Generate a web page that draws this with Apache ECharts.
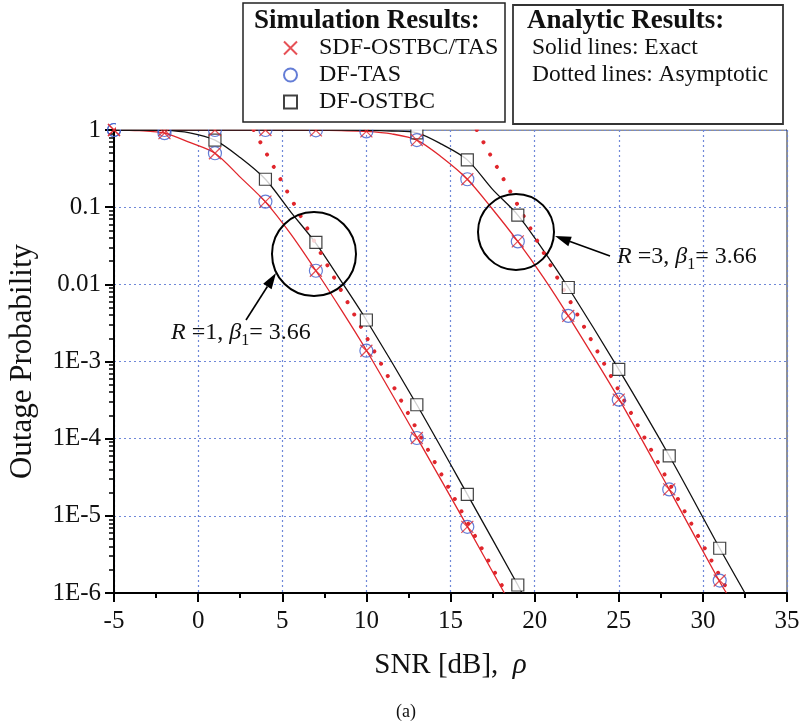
<!DOCTYPE html>
<html><head><meta charset="utf-8">
<script src="https://cdn.jsdelivr.net/npm/echarts@6/dist/echarts.min.js"></script>
<style>html,body{margin:0;padding:0;background:#fff}#c{width:812px;height:727px}</style>
</head><body><div id="c"></div>
<script>
// ---- data ----
const yTickLabels = {'1':'1','0.1':'0.1','0.01':'0.01','0.001':'1E-3','0.0001':'1E-4','0.00001':'1E-5','0.000001':'1E-6'};
// simulation points
const r1SimX = [-5, -2, 1, 4, 7, 10, 13, 16];
const r1Sdf  = [1, 0.91, 0.50, 0.118, 0.015, 1.38e-3, 1.02e-4, 7.2e-6];
const r1Tas  = [1, 0.91, 0.50, 0.118, 0.015, 1.38e-3, 1.02e-4, 7.2e-6];
const r1OstbcX = [1, 4, 7, 10, 13, 16, 19];
const r1Ostbc  = [0.74, 0.23, 0.035, 3.45e-3, 2.75e-4, 1.9e-5, 1.27e-6];
const r3SimX = [-5, -2, 1, 4, 7, 10, 13, 16, 19, 22, 25, 28, 31];
const r3Sdf  = [1, 1, 1, 1, 0.99, 0.96, 0.74, 0.23, 0.036, 3.9e-3, 3.2e-4, 2.2e-5, 1.45e-6];
const r3Tas  = [1, 1, 1, 1, 0.99, 0.96, 0.74, 0.23, 0.036, 3.9e-3, 3.2e-4, 2.2e-5, 1.45e-6];
const r3OstbcX = [13, 16, 19, 22, 25, 28, 31];
const r3Ostbc  = [0.92, 0.41, 0.079, 9.1e-3, 7.9e-4, 6.0e-5, 3.8e-6];
// exact analytic curves
const r1ExactX = [-5, -3.5, -2, -0.5, 1, 2.5, 4, 5.5, 7, 8.5, 10, 13, 16, 18.2];
const r1Exact  = [1, 0.98, 0.91, 0.69, 0.50, 0.245, 0.117, 0.045, 0.015, 4.7e-3, 1.4e-3, 1.04e-4, 7.3e-6, 1e-6];
const r1OExactX = [-5, -3.5, -2, -0.5, 1, 2.5, 4, 5.5, 7, 8.5, 10, 13, 16, 19, 19.25];
const r1OExact  = [1, 0.998, 0.99, 0.92, 0.74, 0.44, 0.23, 0.087, 0.034, 0.011, 3.45e-3, 2.75e-4, 1.9e-5, 1.27e-6, 1e-6];
const r3ExactX = [-5, 4, 7, 8.5, 10, 11.5, 13, 14.5, 16, 17.5, 19, 20.5, 22, 25, 28, 31, 31.4];
const r3Exact  = [1, 0.998, 0.99, 0.98, 0.96, 0.89, 0.74, 0.44, 0.23, 0.094, 0.036, 0.0125, 3.9e-3, 3.3e-4, 2.2e-5, 1.4e-6, 1e-6];
const r3OExactX = [-5, 7, 10, 11.5, 13, 14.5, 16, 17.5, 19, 20.5, 22, 25, 28, 31, 32.5];
const r3OExact  = [1, 0.998, 0.99, 0.97, 0.92, 0.65, 0.41, 0.17, 0.079, 0.028, 9.1e-3, 7.9e-4, 6.0e-5, 3.8e-6, 1e-6];
// asymptotic (straight lines on log scale)
const r1AsymX = [3.3, 18.3];
const r1Asym  = [1, 1e-6];
const r3AsymX = [16.56, 31.56];
const r3Asym  = [1, 1e-6];

const zip = (xs, ys) => xs.map((x, i) => [x, ys[i]]);
const minorVals = [];
for (let d = -6; d < 0; d++) for (let k = 2; k <= 9; k++) minorVals.push(+(k * Math.pow(10, d)).toPrecision(3));

const SERIF = '"Liberation Serif", "DejaVu Serif", serif';
const RED = '#e0262c', BLUE = '#3d5ccc', BLACK = '#111';
const gridLine = {show: true, lineStyle: {color: '#6f88d8', type: [2, 3], width: 1.2}};

const chart = echarts.init(document.getElementById('c'));
const exact = (name, data, color) => ({name, type: 'line', data, symbol: 'none', smooth: 0.3,
  lineStyle: {color, width: 1.3}, z: 2, silent: true});
const asym = (data) => ({type: 'line', data, symbol: 'none', lineStyle: {color: RED, width: 4, type: [0.01, 14], cap: 'round'}, z: 2, silent: true});

chart.setOption({
  animation: false,
  backgroundColor: '#fff',
  grid: {left: 114, right: 25, top: 130, bottom: 134, outerBoundsMode: 'none', containLabel: false,
    show: true, borderColor: '#222', borderWidth: 1, backgroundColor: '#fff'},
  legend: {
    orient: 'vertical', left: 283, top: 36, padding: 0, itemWidth: 13, itemHeight: 13, itemGap: 3,
    data: ['SDF-OSTBC/TAS', 'DF-TAS', 'DF-OSTBC'],
    textStyle: {fontFamily: SERIF, fontSize: 24, color: '#111', lineHeight: 24, padding: [0, 0, 0, 17]}
  },
  xAxis: {
    type: 'value', min: -5, max: 35, interval: 5,
    name: '{n|SNR [dB],  }{r|ρ}', nameLocation: 'middle', nameGap: 58,
    nameTextStyle: {rich: {n: {fontFamily: SERIF, fontSize: 29, color: '#111'}, r: {fontFamily: SERIF, fontSize: 29, fontStyle: 'italic', color: '#111'}}},
    axisLine: {onZero: false, lineStyle: {color: '#000', width: 2}},
    axisTick: {length: 9, lineStyle: {color: '#000', width: 2}},
    minorTick: {show: true, splitNumber: 2, length: 5, lineStyle: {color: '#000', width: 2}},
    axisLabel: {fontFamily: SERIF, fontSize: 25, color: '#111', margin: 16},
    splitLine: gridLine
  },
  yAxis: [{
    type: 'log', logBase: 10, min: 1e-6, max: 1,
    name: 'Outage Probability', nameLocation: 'middle', nameGap: 76,
    nameTextStyle: {fontFamily: SERIF, fontSize: 31, color: '#111'},
    axisLine: {onZero: false, lineStyle: {color: '#000', width: 2}},
    axisTick: {length: 9, lineStyle: {color: '#000', width: 2}},
    axisLabel: {fontFamily: SERIF, fontSize: 25, color: '#111', margin: 13,
      formatter: v => yTickLabels[String(+v.toPrecision(3))] || ''},
    splitLine: gridLine
  }, {
    type: 'log', logBase: 10, min: 1e-6, max: 1, position: 'left',
    axisLine: {show: false, onZero: false}, axisLabel: {show: false}, splitLine: {show: false},
    axisTick: {show: true, customValues: minorVals, length: 5, lineStyle: {color: '#000', width: 1.5}}
  }],
  series: [
    exact('r1exact', zip(r1ExactX, r1Exact), RED),
    exact('r3exact', zip(r3ExactX, r3Exact), RED),
    exact('r1ostbc', zip(r1OExactX, r1OExact), BLACK),
    exact('r3ostbc', zip(r3OExactX, r3OExact), BLACK),
    asym(zip(r1AsymX, r1Asym)),
    asym(zip(r3AsymX, r3Asym)),
    {name: 'DF-OSTBC', type: 'scatter', symbol: 'rect', symbolSize: 12, z: 3,
      data: zip(r1OstbcX, r1Ostbc).concat(zip(r3OstbcX, r3Ostbc)),
      itemStyle: {color: '#fff', borderColor: BLACK, borderWidth: 1.2}},
    {name: 'DF-TAS', type: 'scatter', symbol: 'circle', symbolSize: 13, z: 4,
      data: zip(r1SimX, r1Tas).concat(zip(r3SimX, r3Tas)),
      itemStyle: {color: 'rgba(0,0,0,0)', borderColor: BLUE, borderWidth: 1.2}},
    {name: 'SDF-OSTBC/TAS', type: 'scatter', symbol: 'path://M0,0L10,10M10,0L0,10', symbolSize: 12, z: 5,
      data: zip(r1SimX, r1Sdf).concat(zip(r3SimX, r3Sdf)),
      itemStyle: {color: 'rgba(0,0,0,0)', borderColor: RED, borderWidth: 1.2}}
  ]
});

// annotations
function arrow(x1, y1, x2, y2) {
  const a = Math.atan2(y2 - y1, x2 - x1), L = 16, W = 5;
  const bx = x2 - L * Math.cos(a), by = y2 - L * Math.sin(a);
  const px = -Math.sin(a) * W, py = Math.cos(a) * W;
  return [
    {type: 'line', z: 20, shape: {x1, y1, x2: bx, y2: by}, style: {stroke: '#000', lineWidth: 1.6}},
    {type: 'polygon', z: 20, shape: {points: [[x2, y2], [bx + px, by + py], [bx - px, by - py]]}, style: {fill: '#000'}}
  ];
}
const richAnn = {i: {fontStyle: 'italic', fontFamily: SERIF, fontSize: 24, fill: '#111', lineHeight: 26, verticalAlign: 'middle'},
  n: {fontFamily: SERIF, fontSize: 24, fill: '#111', lineHeight: 26, verticalAlign: 'middle'},
  s: {fontFamily: SERIF, fontSize: 16, fill: '#111', padding: [16, 0, 0, 0], lineHeight: 16, verticalAlign: 'middle'}};
const txt = (x, y, text, size, bold) => ({type: 'text', x, y, z: 70,
  style: {text, font: (bold ? 'bold ' : '') + size + 'px ' + SERIF, fill: '#111', textVerticalAlign: 'middle'}});

chart.setOption({graphic: [
  // clip marker halves above the frame
  {type: 'rect', z: 50, shape: {x: 116, y: 112, width: 670, height: 17.5}, style: {fill: '#fff'}},
  {type: 'rect', z: 60, shape: {x: 243, y: 3, width: 262, height: 119}, style: {fill: 'none', stroke: '#222', lineWidth: 1.5}},
  {type: 'rect', z: 60, shape: {x: 513, y: 5, width: 270, height: 119}, style: {fill: 'none', stroke: '#333', lineWidth: 1.8}},
  txt(254, 21, 'Simulation Results:', 27, true),
  txt(527, 21, 'Analytic Results:', 27, true),
  txt(532, 48, 'Solid lines: Exact', 23.5, false),
  txt(532, 75, 'Dotted lines: Asymptotic', 23.5, false),
  {type: 'circle', z: 20, shape: {cx: 314, cy: 254, r: 42}, style: {fill: 'none', stroke: '#000', lineWidth: 2}},
  {type: 'circle', z: 20, shape: {cx: 516, cy: 232, r: 38}, style: {fill: 'none', stroke: '#000', lineWidth: 2}},
  ...arrow(246, 320, 276, 273),
  ...arrow(610, 256, 555, 236),
  {type: 'text', z: 20, x: 171, y: 320, style: {text: '{i|R}{n| =1, }{i|β}{s|1}{n|= 3.66}', rich: richAnn}},
  {type: 'text', z: 20, x: 617, y: 244, style: {text: '{i|R}{n| =3, }{i|β}{s|1}{n|= 3.66}', rich: richAnn}},
  txt(396, 712, '(a)', 18, false)
]});
</script></body></html>
